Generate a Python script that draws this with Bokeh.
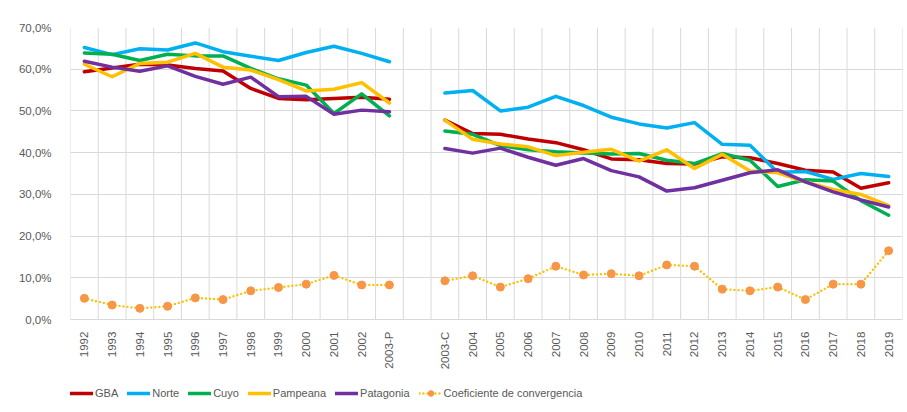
import math
from bokeh.plotting import figure
from bokeh.models import FixedTicker, Legend, LegendItem, Range1d
from bokeh.embed import file_html
from bokeh.resources import INLINE

nan = float("nan")

categories = ["1992", "1993", "1994", "1995", "1996", "1997", "1998", "1999", "2000",
              "2001", "2002", "2003-P", "", "2003-C", "2004", "2005", "2006", "2007",
              "2008", "2009", "2010", "2011", "2012", "2013", "2014", "2015", "2016",
              "2017", "2018", "2019"]

gba = [59.4, 60.3, 61.2, 61.0, 60.2, 59.6, 55.4, 53.0, 52.7, 53.0, 53.3, 52.8, nan,
       47.8, 44.6, 44.4, 43.3, 42.4, 40.7, 38.5, 38.3, 37.4, 37.3, 39.0, 38.8, 37.4,
       35.8, 35.4, 31.5, 32.8]
norte = [65.2, 63.5, 64.9, 64.6, 66.3, 64.2, 63.1, 62.1, 64.0, 65.5, 63.8, 61.8, nan,
         54.3, 54.9, 50.0, 50.9, 53.5, 51.3, 48.5, 46.9, 45.9, 47.2, 42.0, 41.8, 35.3,
         35.5, 33.6, 35.0, 34.3]
cuyo = [63.9, 63.6, 62.1, 63.6, 63.2, 63.2, 60.2, 57.7, 56.2, 49.4, 54.1, 48.8, nan,
        45.2, 44.4, 41.7, 40.7, 40.2, 39.9, 39.7, 39.8, 38.2, 37.4, 39.8, 38.2, 31.9,
        33.5, 33.2, 28.5, 25.0]
pampeana = [61.2, 58.2, 61.4, 61.7, 63.8, 60.5, 59.8, 57.5, 54.8, 55.2, 56.8, 51.9, nan,
            47.8, 43.2, 42.1, 41.4, 39.3, 40.1, 40.8, 38.0, 40.7, 36.2, 39.6, 35.6, 35.2,
            33.0, 31.2, 30.0, 27.3]
patagonia = [61.9, 60.5, 59.5, 60.8, 58.3, 56.4, 58.1, 53.4, 53.5, 49.2, 50.2, 49.8, nan,
             41.0, 39.9, 41.1, 38.9, 37.0, 38.6, 35.7, 34.2, 30.8, 31.6, 33.4, 35.2, 35.9,
             33.0, 30.6, 28.7, 27.0]
coeficiente = [5.1, 3.5, 2.7, 3.2, 5.2, 4.8, 6.9, 7.7, 8.5, 10.6, 8.3, 8.3, nan,
               9.3, 10.5, 7.8, 9.8, 12.8, 10.7, 11.0, 10.5, 13.1, 12.8, 7.3, 6.9, 7.8,
               4.8, 8.5, 8.5, 16.5]

y_ticks = [0, 10, 20, 30, 40, 50, 60, 70]
y_labels = ["0,0%", "10,0%", "20,0%", "30,0%", "40,0%", "50,0%", "60,0%", "70,0%"]

n = len(categories)
x = list(range(1, n + 1))

FONT = "Liberation Sans"
GRID = "#D9D9D9"
TXT = "#595959"

# frame extends below 0 % so that the category labels and legend sit inside it
p = figure(width=907, height=412, output_backend="svg", toolbar_location=None,
           x_range=Range1d(0.5, n + 0.5), y_range=Range1d(-21.3, 70),
           min_border_left=70, min_border_right=5, min_border_top=27,
           min_border_bottom=4)
p.outline_line_color = None
p.background_fill_color = "white"
p.border_fill_color = "white"

# category axis drawn at y = 0
p.xaxis.fixed_location = 0
p.xaxis.ticker = FixedTicker(ticks=[xi for xi, c in zip(x, categories) if c])
p.xaxis.major_label_overrides = {xi: c for xi, c in zip(x, categories) if c}
p.xaxis.major_label_orientation = math.pi / 2
p.xaxis.major_tick_line_color = None
p.xaxis.minor_tick_line_color = None
p.xaxis.axis_line_color = GRID
p.xaxis.major_label_text_font = FONT
p.xaxis.major_label_text_font_size = "11.5px"
p.xaxis.major_label_text_color = TXT
p.xaxis.major_label_standoff = 6

p.yaxis.ticker = FixedTicker(ticks=y_ticks)
p.yaxis.major_label_overrides = dict(zip(y_ticks, y_labels))
p.yaxis.major_tick_line_color = None
p.yaxis.minor_tick_line_color = None
p.yaxis.axis_line_color = None
p.yaxis.major_label_text_font = FONT
p.yaxis.major_label_text_font_size = "11.5px"
p.yaxis.major_label_text_color = TXT
p.yaxis.major_label_standoff = 13

p.ygrid.ticker = FixedTicker(ticks=y_ticks)
p.ygrid.grid_line_color = GRID
p.xgrid.visible = False

# vertical grid lines between categories, from 0 % to 70 %
bounds = [i + 0.5 for i in range(n + 1)]
p.segment(x0=bounds, x1=bounds, y0=[y_ticks[0]] * len(bounds),
          y1=[y_ticks[-1]] * len(bounds), line_color=GRID, line_width=1,
          level="underlay")

series = [("GBA", gba, "#C00000"), ("Norte", norte, "#00B0F0"),
          ("Cuyo", cuyo, "#00B050"), ("Pampeana", pampeana, "#FFC000"),
          ("Patagonia", patagonia, "#7030A0")]

items = []
for name, vals, col in series:
    r = p.line(x, vals, line_color=col, line_width=3.5, line_join="round", line_cap="round")
    items.append(LegendItem(label=name, renderers=[r]))

rl = p.line(x, coeficiente, line_color="#FFC000", line_width=2.4, line_dash="0 4",
            line_cap="round")
rc = p.scatter(x, coeficiente, size=8, fill_color="#F79646", line_color="#F79646")
items.append(LegendItem(label="Coeficiente de convergencia", renderers=[rl, rc]))

legend = Legend(items=items, orientation="horizontal", location=(0, 8),
                padding=0, margin=0, spacing=9, glyph_width=23, glyph_height=14,
                label_standoff=2, label_height=14, border_line_color=None,
                background_fill_alpha=0,
                label_text_font=FONT, label_text_font_size="11px",
                label_text_color=TXT)
p.add_layout(legend, "center")

open("out.html", "w").write(file_html(p, INLINE))
